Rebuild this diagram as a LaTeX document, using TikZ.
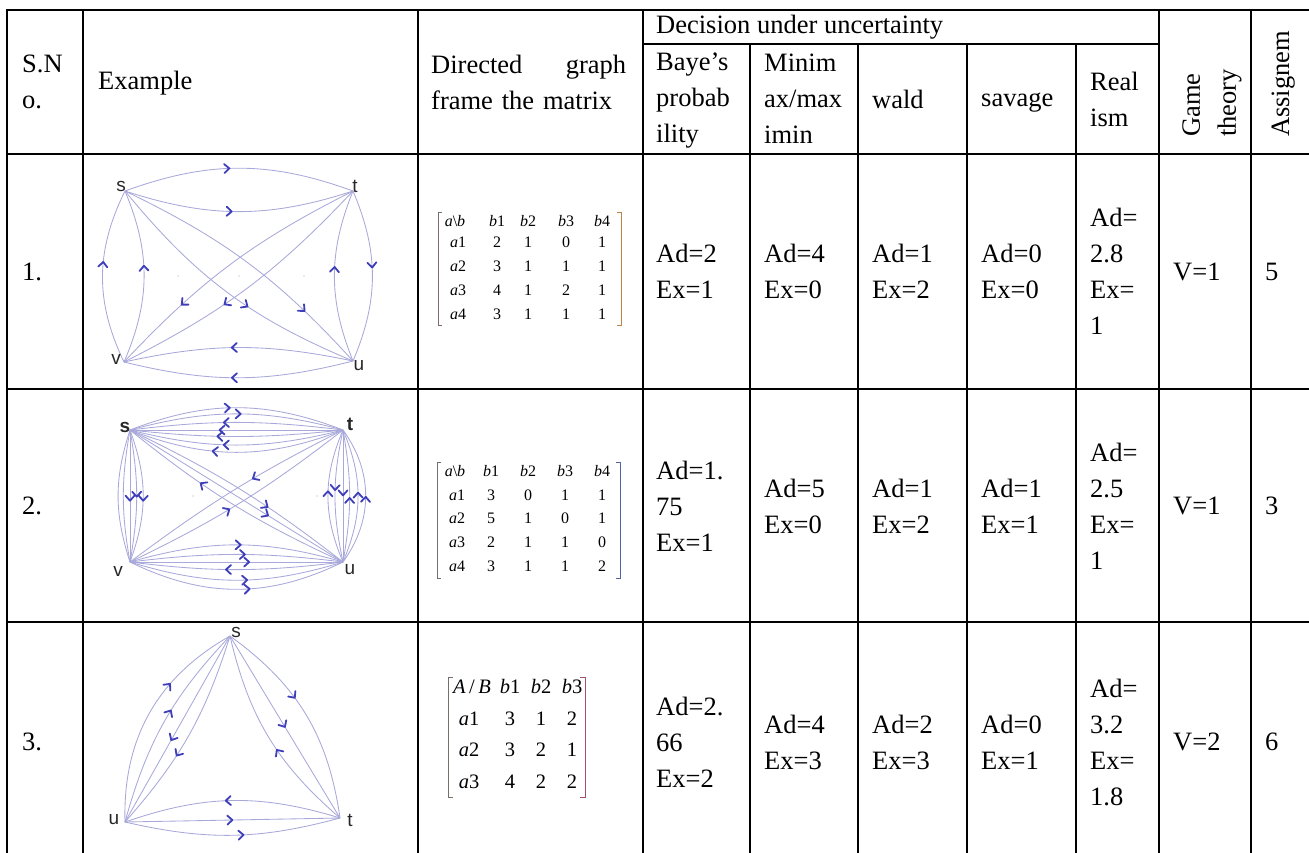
\documentclass[tikz,border=0pt]{standalone}
\usepackage{fontspec}
\setmainfont{Liberation Serif}
\newfontfamily\lblfont{Liberation Sans}
\usetikzlibrary{decorations.markings}
\definecolor{edgecol}{RGB}{168,168,218}
\definecolor{arrcol}{RGB}{62,62,185}
\definecolor{brkl}{RGB}{120,110,105}
\definecolor{brkA}{RGB}{190,130,70}
\definecolor{brkB}{RGB}{80,100,165}
\definecolor{brkC}{RGB}{160,80,110}
\begin{document}
\begin{tikzpicture}[x=1pt,y=1pt,
  grid/.style={line width=2pt, line cap=rect},
  cell/.style={anchor=west, align=left, inner sep=0pt, font=\fontsize{26.5}{36}\selectfont},
  mtx/.style={inner sep=0pt, text height=0.7em, text depth=0pt, font=\fontsize{16}{18}\selectfont},
  mtxb/.style={inner sep=0pt, text height=0.7em, text depth=0pt, font=\fontsize{20.5}{24}\selectfont},
  edge/.style={draw=edgecol, line width=0.85pt},
  chev/.style={draw=arrcol, line width=1.8pt, line cap=round, line join=round},
  fw/.style={postaction={decorate, decoration={markings, mark=at position #1 with {\draw[chev] (-3pt,4.5pt) -- (2pt,0pt) -- (-3pt,-4.5pt);}}}},
  bw/.style={postaction={decorate, decoration={markings, mark=at position #1 with {\draw[chev] (3pt,4.5pt) -- (-2pt,0pt) -- (3pt,-4.5pt);}}}},
  vlabel/.style={font=\lblfont\fontsize{19}{19}\selectfont, inner sep=0pt, text=black!85},
  bracket/.style={line width=0.9pt},
  dot/.style={fill=black!35, draw=none}
]
\useasboundingbox (0,0) rectangle (1309,-852);
\clip (0,0) rectangle (1309,-852);

% ---------- table grid ----------
\draw[grid] (7,-10) -- (1309,-10);
\draw[grid] (643,-44) -- (1159,-44);
\draw[grid] (7,-154) -- (1309,-154);
\draw[grid] (7,-389) -- (1309,-389);
\draw[grid] (7,-622) -- (1309,-622);
\foreach \x in {7,83,418,643,1159,1251} \draw[grid] (\x,-10) -- (\x,-860);
\foreach \x in {750,858,967,1076} \draw[grid] (\x,-44) -- (\x,-860);

% ---------- header ----------
\node[cell] (hsno) at (22,-82) {S.N\\o.};
\node[cell] (hex) at (98,-83) {Example};
\node[cell, text width=195pt] (hdir) at (431,-82) {Directed\hfill graph\\frame the matrix};
\node[cell] (hdec) at (656,-27) {Decision under uncertainty};
\node[cell] (hbay) at (656,-101) {Baye’s\\probab\\ility};
\node[cell] (hmin) at (764,-99) {Minim\\ax/max\\imin};
\node[cell] (hwald) at (872,-99) {wald};
\node[cell] (hsav) at (981,-103) {savage};
\node[cell] (hreal) at (1090,-99) {Real\\ism};
\node[cell, rotate=90] (hgame) at (1212,-137) {Game\\theory};
\node[cell, rotate=90, anchor=base west] (hasg) at (1289,-137) {Assignem};

% ---------- row 1 ----------
\node[cell] (r1sno) at (22,-271.5) {1.};
\node[cell] (r1bay) at (656,-271.5) {Ad=2\\Ex=1};
\node[cell] (r1min) at (764,-271.5) {Ad=4\\Ex=0};
\node[cell] (r1wald) at (872,-271.5) {Ad=1\\Ex=2};
\node[cell] (r1sav) at (981,-271.5) {Ad=0\\Ex=0};
\node[cell] (r1real) at (1090,-271.5) {Ad=\\2.8\\Ex=\\1};
\node[cell] (r1game) at (1173,-271.5) {V=1};
\node[cell] (r1asg) at (1265,-271.5) {5};

% ---------- row 2 ----------
\node[cell] (r2sno) at (22,-506) {2.};
\node[cell] (r2bay) at (656,-506) {Ad=1.\\75\\Ex=1};
\node[cell] (r2min) at (764,-506) {Ad=5\\Ex=0};
\node[cell] (r2wald) at (872,-506) {Ad=1\\Ex=2};
\node[cell] (r2sav) at (981,-506) {Ad=1\\Ex=1};
\node[cell] (r2real) at (1090,-506) {Ad=\\2.5\\Ex=\\1};
\node[cell] (r2game) at (1173,-506) {V=1};
\node[cell] (r2asg) at (1265,-506) {3};

% ---------- row 3 ----------
\node[cell] (r3sno) at (22,-742) {3.};
\node[cell] (r3bay) at (656,-742) {Ad=2.\\66\\Ex=2};
\node[cell] (r3min) at (764,-742) {Ad=4\\Ex=3};
\node[cell] (r3wald) at (872,-742) {Ad=2\\Ex=3};
\node[cell] (r3sav) at (981,-742) {Ad=0\\Ex=1};
\node[cell] (r3real) at (1090,-742) {Ad=\\3.2\\Ex=\\1.8};
\node[cell] (r3game) at (1173,-742) {V=2};
\node[cell] (r3asg) at (1265,-742) {6};

% ---------- matrix 1 ----------
\draw[bracket, draw=brkl] (442,-212) -- (438,-212) -- (438,-325) -- (442,-325);
\draw[bracket, draw=brkA] (617,-212) -- (621,-212) -- (621,-325) -- (617,-325);
\foreach \x/\t [count=\i] in {455/{\textit{a}\textbackslash\textit{b}},497/{\textit{b}1},528/{\textit{b}2},566/{\textit{b}3},602/{\textit{b}4}} \node[mtx] (m1h\i) at (\x,-223) {\t};
\foreach \x/\t [count=\i] in {458/{\textit{a}1},497/2,528/1,566/0,602/1} \node[mtx] (m1a\i) at (\x,-244) {\t};
\foreach \x/\t [count=\i] in {458/{\textit{a}2},497/3,528/1,566/1,602/1} \node[mtx] (m1b\i) at (\x,-268) {\t};
\foreach \x/\t [count=\i] in {458/{\textit{a}3},497/4,528/1,566/2,602/1} \node[mtx] (m1c\i) at (\x,-292) {\t};
\foreach \x/\t [count=\i] in {458/{\textit{a}4},497/3,528/1,566/1,602/1} \node[mtx] (m1d\i) at (\x,-316) {\t};

% ---------- matrix 2 ----------
\draw[bracket, draw=brkl] (441,-462) -- (437,-462) -- (437,-578) -- (441,-578);
\draw[bracket, draw=brkB] (616,-462) -- (620,-462) -- (620,-578) -- (616,-578);
\foreach \x/\t [count=\i] in {455/{\textit{a}\textbackslash\textit{b}},491/{\textit{b}1},528/{\textit{b}2},565/{\textit{b}3},602/{\textit{b}4}} \node[mtx] (m2h\i) at (\x,-473) {\t};
\foreach \x/\t [count=\i] in {457/{\textit{a}1},491/3,528/0,565/1,602/1} \node[mtx] (m2a\i) at (\x,-497) {\t};
\foreach \x/\t [count=\i] in {457/{\textit{a}2},491/5,528/1,565/0,602/1} \node[mtx] (m2b\i) at (\x,-520) {\t};
\foreach \x/\t [count=\i] in {457/{\textit{a}3},491/2,528/1,565/1,602/0} \node[mtx] (m2c\i) at (\x,-544) {\t};
\foreach \x/\t [count=\i] in {457/{\textit{a}4},491/3,528/1,565/1,602/2} \node[mtx] (m2d\i) at (\x,-568) {\t};

% ---------- matrix 3 ----------
\draw[bracket, draw=brkl] (453,-677) -- (448,-677) -- (448,-797) -- (453,-797);
\draw[bracket, draw=brkC] (580,-677) -- (585,-677) -- (585,-797) -- (580,-797);
\foreach \x/\t [count=\i] in {472/{\textit{A}\,/\,\textit{B}},510/{\textit{b}1},541/{\textit{b}2},572/{\textit{b}3}} \node[mtxb] (m3h\i) at (\x,-690) {\t};
\foreach \x/\t [count=\i] in {469/{\textit{a}1},510/3,541/1,572/2} \node[mtxb] (m3a\i) at (\x,-722) {\t};
\foreach \x/\t [count=\i] in {469/{\textit{a}2},510/3,541/2,572/1} \node[mtxb] (m3b\i) at (\x,-753) {\t};
\foreach \x/\t [count=\i] in {469/{\textit{a}3},510/4,541/2,572/2} \node[mtxb] (m3c\i) at (\x,-785) {\t};

% ---------- graph 1 ----------
\coordinate (g1s) at (125,-191);
\coordinate (g1t) at (353,-191);
\coordinate (g1v) at (124,-362);
\coordinate (g1u) at (353,-361);
\draw[edge, fw=0.45] (g1s) to[bend left=20] (g1t);
\draw[edge, fw=0.46] (g1s) to[bend right=18] (g1t);
\draw[edge, fw=0.52] (g1u) to[bend right=12] (g1v);
\draw[edge, fw=0.52] (g1u) to[bend left=14] (g1v);
\draw[edge, fw=0.57] (g1v) to[bend left=26] (g1s);
\draw[edge, fw=0.55] (g1v) to[bend right=23] (g1s);
\draw[edge, fw=0.54] (g1u) to[bend left=22] (g1t);
\draw[edge, fw=0.44] (g1t) to[bend left=23] (g1u);
\draw[edge, fw=0.75] (g1s) to[bend left=11] (g1u);
\draw[edge, fw=0.58] (g1s) to[bend right=14] (g1u);
\draw[edge, fw=0.71] (g1t) to[bend right=10] (g1v);
\draw[edge, fw=0.59] (g1t) to[bend left=10] (g1v);
\foreach \x in {178,239,304} \fill[dot] (\x,-276) circle (0.7);
\node[vlabel] (g1sl) at (121,-186) {s};
\node[vlabel] (g1tl) at (355,-186) {t};
\node[vlabel] (g1vl) at (116,-359) {v};
\node[vlabel] (g1ul) at (359,-366) {u};

% ---------- graph 2 ----------
\coordinate (g2s) at (130,-430);
\coordinate (g2t) at (343,-430);
\coordinate (g2v) at (130,-562);
\coordinate (g2u) at (343,-562);
\draw[edge, fw=0.46] (g2s) to[bend left=21] (g2t);
\draw[edge, fw=0.51] (g2s) to[bend left=15] (g2t);
\draw[edge, bw=0.45] (g2s) to[bend left=7] (g2t);
\draw[edge, bw=0.43] (g2s) -- (g2t);
\draw[edge, bw=0.42] (g2s) to[bend right=6] (g2t);
\draw[edge, bw=0.45] (g2s) to[bend right=14] (g2t);
\draw[edge, bw=0.40] (g2s) to[bend right=21] (g2t);
\draw[edge, fw=0.51] (g2v) to[bend left=16] (g2u);
\draw[edge, fw=0.53] (g2v) to[bend left=7] (g2u);
\draw[edge, fw=0.55] (g2v) -- (g2u);
\draw[edge, bw=0.46] (g2v) to[bend right=7] (g2u);
\draw[edge, fw=0.54] (g2v) to[bend right=17] (g2u);
\draw[edge, fw=0.55] (g2v) to[bend right=26] (g2u);
\draw[edge] (g2s) to[bend right=18] (g2v);
\draw[edge] (g2s) to[bend right=10] (g2v);
\draw[edge, fw=0.52] (g2s) -- (g2v);
\draw[edge, fw=0.49] (g2s) to[bend left=10] (g2v);
\draw[edge, fw=0.52] (g2s) to[bend left=20] (g2v);
\draw[edge, bw=0.48] (g2t) to[bend right=23] (g2u);
\draw[edge, fw=0.44] (g2t) to[bend right=12] (g2u);
\draw[edge, fw=0.48] (g2t) -- (g2u);
\draw[edge, bw=0.53] (g2t) to[bend left=10] (g2u);
\draw[edge, bw=0.49] (g2t) to[bend left=23] (g2u);
\draw[edge, bw=0.52] (g2t) to[bend left=36] (g2u);
\draw[edge, fw=0.62] (g2s) to[bend left=6] (g2u);
\draw[edge, fw=0.64] (g2s) -- (g2u);
\draw[edge, bw=0.36] (g2s) to[bend right=7] (g2u);
\draw[edge, fw=0.40] (g2t) to[bend right=5] (g2v);
\draw[edge, bw=0.56] (g2t) to[bend left=6] (g2v);
\foreach \x in {193,317} \fill[dot] (\x,-496) circle (0.7);
\node[vlabel, font=\lblfont\bfseries\fontsize{19}{19}\selectfont] (g2sl) at (125,-427) {s};
\node[vlabel, font=\lblfont\bfseries\fontsize{19}{19}\selectfont] (g2tl) at (350,-424) {t};
\node[vlabel] (g2vl) at (118,-571) {v};
\node[vlabel] (g2ul) at (350,-570) {u};

% ---------- graph 3 ----------
\coordinate (g3s) at (230,-636);
\coordinate (g3u) at (125,-822);
\coordinate (g3t) at (340,-818);
\draw[edge, fw=0.65] (g3u) to[bend left=31] (g3s);
\draw[edge, fw=0.55] (g3u) to[bend left=14] (g3s);
\draw[edge, bw=0.45] (g3u) -- (g3s);
\draw[edge, bw=0.40] (g3u) to[bend right=12] (g3s);
\draw[edge, fw=0.40] (g3s) to[bend left=23] (g3t);
\draw[edge, fw=0.49] (g3s) -- (g3t);
\draw[edge, bw=0.58] (g3s) to[bend right=18] (g3t);
\draw[edge, bw=0.48] (g3u) to[bend left=18] (g3t);
\draw[edge, fw=0.49] (g3u) -- (g3t);
\draw[edge, fw=0.54] (g3u) to[bend right=14] (g3t);
\node[vlabel] (g3sl) at (236,-632) {s};
\node[vlabel] (g3ul) at (114,-820) {u};
\node[vlabel] (g3tl) at (350,-820) {t};
\end{tikzpicture}
\end{document}
